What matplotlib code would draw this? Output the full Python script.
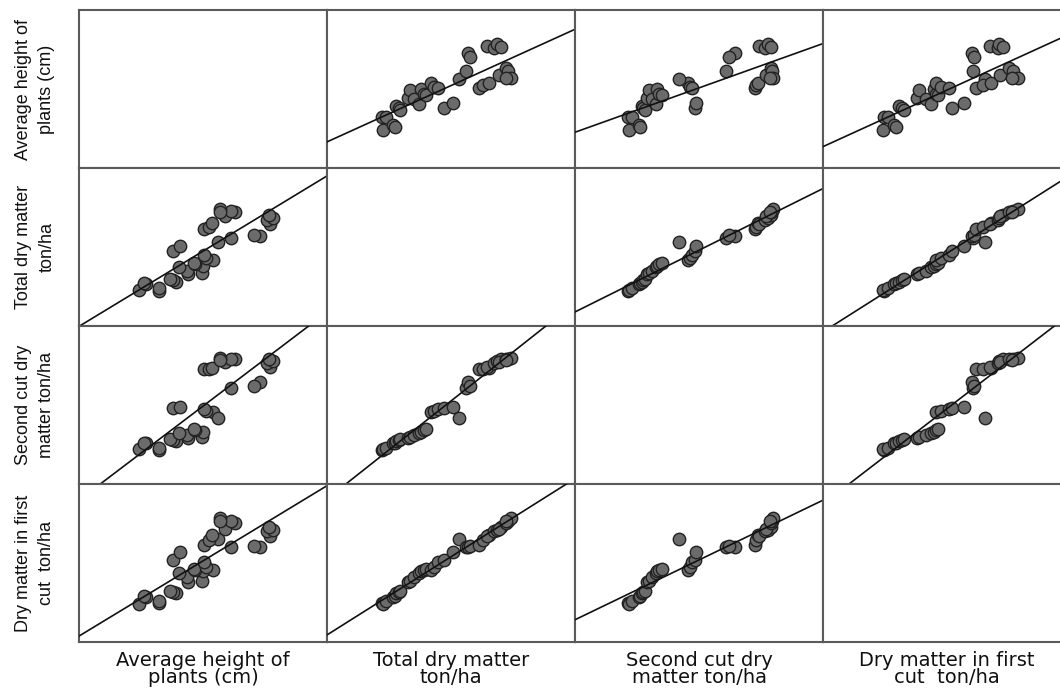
import numpy as np
import matplotlib
matplotlib.use('Agg')
import matplotlib.pyplot as plt


var_labels = ['Average height of\nplants (cm)',
              'Total dry matter\nton/ha',
              'Second cut dry\nmatter ton/ha',
              'Dry matter in first\ncut  ton/ha']

height = [72.1, 64.1, 72.1, 67.2, 66.2, 79.2, 77.8, 76.7, 84.1, 89.4,
          83.5, 80.5, 89.8, 86.8, 86.2, 94.0, 91.1, 90.4, 77.8, 80.9,
          96.1, 101.4, 113.0, 110.5, 90.4, 92.5, 93.6, 117.2, 115.7, 118.3,
          116.8, 98.9, 103.1, 101.4, 96.8, 96.8]
total = [4.40, 4.53, 4.75, 5.33, 5.47, 5.60, 5.81, 5.92, 6.53, 6.67,
         6.99, 7.41, 7.60, 7.79, 8.00, 8.40, 8.59, 8.93, 9.47, 10.13,
         10.67, 11.20, 11.41, 11.52, 12.27, 12.59, 13.07, 12.93, 13.47, 13.73,
         14.00, 13.87, 14.40, 14.61, 14.80, 14.40]
second = [2.15, 2.19, 2.30, 2.57, 2.62, 2.72, 2.76, 2.83, 2.91, 3.00,
          3.12, 3.25, 3.29, 3.40, 3.50, 4.56, 4.64, 4.73, 4.83, 4.87,
          4.20, 6.10, 6.46, 6.20, 7.26, 7.30, 7.36, 7.43, 7.68, 7.79,
          7.89, 7.72, 7.89, 7.93, 8.00, 7.85]
first = [2.45, 2.41, 2.62, 2.87, 2.93, 3.08, 3.19, 3.25, 3.78, 3.88,
         4.14, 4.35, 4.47, 4.56, 4.62, 4.56, 4.77, 5.08, 5.19, 5.68,
         6.52, 6.03, 5.99, 6.10, 6.16, 6.46, 6.79, 6.73, 7.05, 7.09,
         7.26, 7.15, 7.51, 7.68, 7.85, 7.64]

limits = [(40, 140), (0, 20), (0, 10), (0, 10)]

W, H = 1060, 688
left, top = 79, 10
col_w, row_h = 248, 158

data = [np.array(height), np.array(total), np.array(second), np.array(first)]

fig = plt.figure(figsize=(W / 100, H / 100), dpi=100)
fig.patch.set_facecolor('white')

for i in range(4):
    for j in range(4):
        x0 = (left + j * col_w) / W
        y0 = (H - top - (i + 1) * row_h) / H
        ax = fig.add_axes([x0, y0, col_w / W, row_h / H])
        ax.set_xlim(limits[j])
        ax.set_ylim(limits[i])
        ax.set_xticks([])
        ax.set_yticks([])
        for sp in ax.spines.values():
            sp.set_color('#5a5a5a')
            sp.set_linewidth(1.5)
        if i == j:
            continue
        x, y = data[j], data[i]
        ax.scatter(x, y, s=80, facecolor='#6b6b6b', edgecolor='#222222',
                   linewidth=1.0, zorder=2)
        fit = np.polyfit(x, y, 1)
        xs = np.array(limits[j], dtype=float)
        ax.plot(xs, np.polyval(fit, xs), color='#111111', lw=1.2, zorder=3)

# row names on the left, rotated
for i, lab in enumerate(var_labels):
    yc = (H - top - (i + 0.5) * row_h) / H
    fig.text(35 / W, yc, lab, rotation=90, ha='center', va='center',
             multialignment='center', size=13, linespacing=1.5,
             color='#111111', family=['Liberation Sans', 'DejaVu Sans'])

# column names under the grid
for j, lab in enumerate(var_labels):
    xc = (left + (j + 0.5) * col_w) / W
    fig.text(xc, (H - 651) / H, lab, ha='center', va='top',
             multialignment='center', size=14, linespacing=0.88,
             color='#111111', family='DejaVu Sans')

fig.savefig('out.png', dpi=100)
